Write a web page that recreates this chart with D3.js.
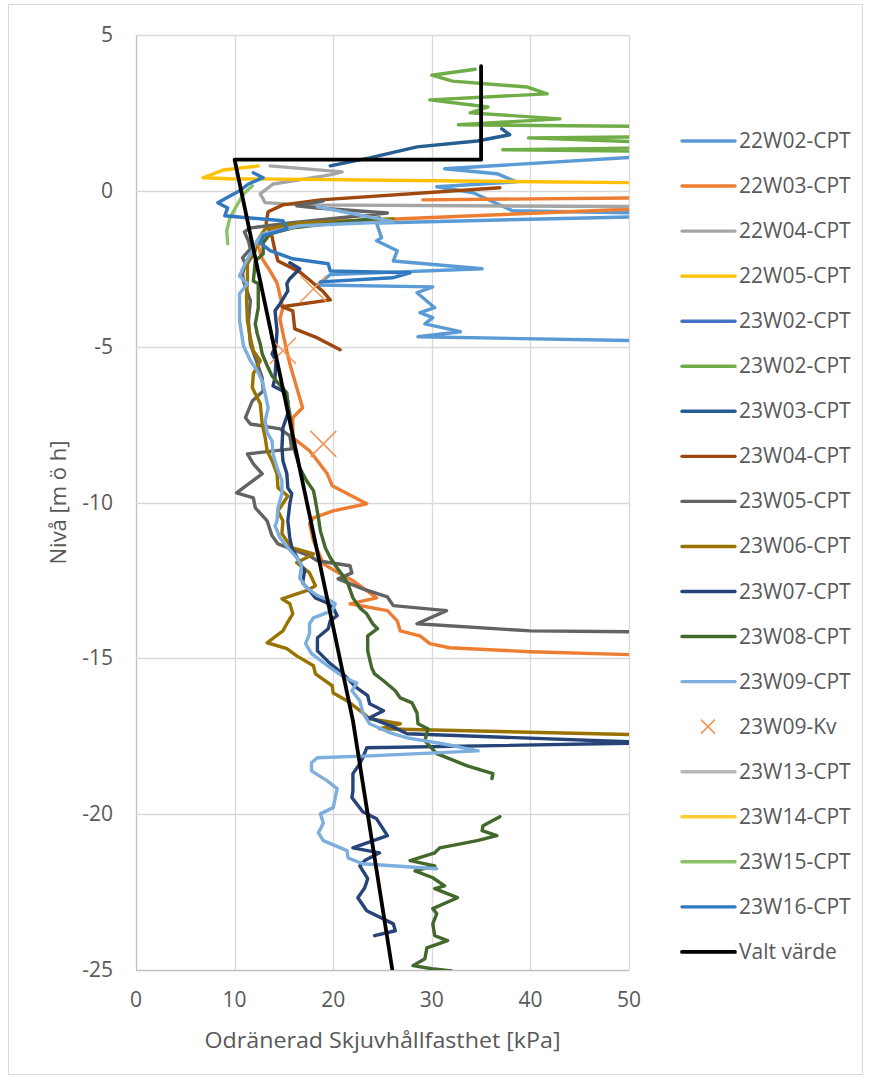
<!DOCTYPE html>
<meta charset="utf-8">
<style>
body { margin: 0; background: #fff; }
text { font-family: "Open Sans", "Noto Sans", sans-serif; fill: #595959; }
</style>
<body>
<svg id="chart" width="871" height="1083"></svg>
<script src="https://d3js.org/d3.v7.min.js"></script>
<script>
// series: [kPa, level m ö h], null = gap in the data
var s22W02 = [[51.1,1.09],[31.3,0.71],[36.6,0.55],[38.6,0.29],[30.5,0.13],[34.2,-0.06],[38.2,-0.64],[51.1,-0.71],[51.1,-0.83],[24.4,-1.03],[24.9,-1.51],[24.4,-1.60],[26.5,-1.92],[26.1,-2.25],[35.1,-2.50],[19.7,-2.69],[18.4,-3.02],[30.1,-3.08],[28.5,-3.27],[30.3,-3.75],[28.8,-3.91],[30.1,-4.07],[29.3,-4.27],[32.9,-4.52],[28.6,-4.68],[51.1,-4.81]];
var s22W03 = [[29.1,-0.29],[53.1,-0.22],[53.1,-0.55],[16.6,-1.03],[13.6,-1.28],[12.4,-1.76],[12.8,-2.18],[13.6,-2.57],[14.3,-2.95],[14.9,-3.75],[14.6,-4.11],[15.0,-4.72],[15.6,-5.55],[16.4,-6.42],[16.9,-6.96],[15.9,-7.28],[15.9,-7.92],[17.6,-8.34],[18.4,-8.66],[19.4,-9.08],[19.9,-9.46],[23.4,-10.04],[20.0,-10.27],[18.0,-10.49],[17.6,-10.68],[18.0,-11.23],[19.0,-11.97],[20.7,-12.29],[22.0,-12.51],[24.4,-13.06],[21.7,-13.25],[25.5,-13.47],[26.5,-13.80],[26.8,-14.12],[28.8,-14.28],[29.8,-14.53],[31.8,-14.66],[40.0,-14.79],[51.1,-14.89]];
var s22W04 = [[13.6,0.80],[20.9,0.61],[19.7,0.51],[13.9,0.22],[12.6,-0.10],[13.1,-0.38],[16.6,-0.45],[53.1,-0.51]];
var s22W05 = [[12.4,0.80],[8.9,0.67],[6.8,0.42],[9.5,0.39],[51,0.26]];
var s23W02a = [];
var s23W02b = [[34.4,3.90],[30.0,3.71],[32.1,3.52],[39.7,3.33],[41.7,3.11],[29.8,2.92],[35.7,2.69],[33.9,2.50],[43.0,2.31],[32.7,2.12],[57.2,2.05],[57.2,1.75],[39.8,1.70],[57.2,1.50],[57.2,1.40],[37.2,1.32],[57.2,1.25]];
var s23W03 = [[37.1,1.99],[37.9,1.80],[34.6,1.60],[28.5,1.41],[23.7,1.06],[19.7,0.80]];
var s23W04 = [[36.9,0.10],[18.7,-0.29],[14.9,-0.45],[13.4,-0.67],[13.2,-1.03],[13.8,-1.48],[14.1,-1.92],[14.4,-2.25],[15.6,-2.44],[16.6,-2.60],[17.6,-2.86],[19.0,-3.24],[19.7,-3.50],[14.8,-3.72],[15.9,-3.85],[16.1,-4.43],[18.4,-4.72],[20.7,-5.10]];
var s23W05 = [[19.0,-0.32],[16.3,-0.48],[18.4,-0.55],[25.5,-0.71],[15.6,-1.03],[11.6,-1.19],[11.0,-1.32],[11.4,-1.60],[11.6,-1.86],[10.8,-2.15],[11.1,-2.34],[10.8,-2.66],[10.9,-2.89],[11.6,-3.53],[11.4,-4.17],[11.6,-4.91],[12.1,-5.36],[12.8,-6.00],[12.9,-6.42],[11.8,-6.74],[11.1,-7.28],[11.6,-7.48],[14.6,-7.64],[15.6,-7.86],[15.8,-8.28],[11.3,-8.44],[11.9,-8.76],[12.8,-9.08],[10.2,-9.69],[11.9,-9.85],[12.1,-10.17],[13.3,-10.59],[13.8,-11.07],[14.4,-11.33],[17.6,-11.71],[18.4,-11.87],[21.7,-12.03],[21.9,-12.26],[20.5,-12.45],[23.0,-12.77],[25.5,-13.03],[26.1,-13.31],[31.5,-13.47],[28.5,-13.89],[40.0,-14.12],[51.1,-14.15]];
var s23W06 = [[26.1,-0.90],[16.6,-1.03],[13.1,-1.22],[12.3,-1.60],[12.1,-1.92],[11.3,-2.34],[11.3,-2.89],[11.2,-3.43],[11.3,-4.17],[11.6,-4.72],[11.9,-5.13],[12.6,-5.45],[11.9,-5.87],[11.8,-6.32],[12.6,-6.83],[12.8,-7.48],[13.1,-7.92],[13.3,-8.34],[13.8,-8.66],[14.3,-9.08],[14.4,-9.53],[15.4,-9.79],[14.4,-10.27],[14.9,-10.59],[14.8,-11.00],[15.8,-11.45],[18.0,-11.65],[16.3,-11.93],[17.6,-12.26],[18.2,-12.67],[17.3,-12.83],[14.8,-13.09],[15.6,-13.25],[15.9,-13.57],[15.3,-13.89],[14.9,-14.12],[13.3,-14.50],[15.3,-14.69],[16.3,-14.92],[18.0,-15.24],[18.2,-15.50],[19.9,-15.88],[20.0,-16.11],[21.4,-16.36],[23.0,-16.75],[23.7,-16.94],[26.8,-17.10],[24.7,-17.26],[51.1,-17.45]];
var s23W07 = [[15.6,-2.31],[16.6,-2.50],[15.6,-2.82],[15.3,-2.98],[15.4,-3.21],[14.6,-3.63],[14.1,-3.85],[14.3,-4.49],[14.2,-4.97],[13.8,-5.23],[14.2,-5.45],[14.1,-6.00],[13.9,-6.26],[14.9,-6.42],[15.4,-6.74],[15.4,-7.15],[14.9,-7.60],[14.8,-8.24],[14.9,-8.66],[15.3,-9.08],[15.4,-9.53],[15.8,-9.72],[15.6,-10.04],[15.4,-10.59],[15.6,-11.13],[15.8,-11.45],[16.6,-11.93],[17.1,-12.19],[16.9,-12.58],[17.6,-12.83],[18.2,-13.06],[19.4,-13.22],[20.0,-13.38],[20.4,-13.63],[19.7,-13.80],[19.5,-14.05],[18.4,-14.34],[18.4,-14.76],[19.7,-15.17],[21.0,-15.50],[22.4,-15.95],[23.5,-16.20],[23.7,-16.46],[25.1,-16.68],[23.7,-16.91],[25.8,-17.16],[27.5,-17.42],[53.1,-17.71],[23.4,-17.87],[23.0,-18.19],[22.7,-18.38],[22.0,-18.70],[22.0,-19.25],[21.9,-19.47],[23.0,-19.92],[24.4,-20.15],[25.5,-20.69],[22.0,-21.08],[24.7,-21.24],[23.2,-21.49],[22.7,-21.66],[23.5,-22.07],[23.2,-22.36],[22.5,-22.68],[23.4,-23.10],[26.1,-23.52],[26.3,-23.74],[24.2,-23.90]];
var s23W08 = [[24.7,-0.87],[15.9,-1.19],[13.6,-1.38],[12.9,-1.67],[12.9,-2.02],[12.1,-2.25],[11.9,-2.89],[12.4,-2.98],[12.4,-3.75],[12.1,-4.27],[12.3,-4.59],[12.6,-4.91],[12.8,-5.23],[13.4,-5.68],[13.8,-5.94],[14.4,-6.16],[15.3,-6.48],[15.4,-6.83],[15.6,-7.15],[15.8,-7.70],[16.1,-8.34],[16.6,-8.89],[17.3,-9.30],[18.0,-9.62],[18.2,-9.95],[18.5,-10.49],[18.7,-10.91],[19.2,-11.45],[19.7,-11.77],[20.4,-12.10],[21.0,-12.35],[21.5,-12.61],[22.0,-13.06],[22.7,-13.38],[23.4,-13.57],[24.0,-13.89],[24.5,-14.05],[23.5,-14.28],[23.5,-14.76],[23.9,-15.30],[24.2,-15.50],[25.1,-15.72],[26.3,-16.04],[26.8,-16.27],[28.0,-16.43],[28.5,-16.75],[28.6,-17.10],[29.6,-17.26],[29.3,-17.65],[30.5,-18.06],[33.6,-18.45],[36.2,-18.70],[36.1,-18.86],null,[36.9,-20.08],[35.2,-20.37],[35.1,-20.53],[36.6,-20.69],[34.6,-20.85],[30.8,-21.08],[30.3,-21.24],[27.8,-21.49],[30.3,-21.66],[28.3,-21.82],[30.1,-22.04],[31.3,-22.30],[30.3,-22.39],[32.6,-22.68],[30.1,-23.03],[30.5,-23.19],[30.1,-23.52],[30.3,-23.90],[31.6,-24.06],[29.5,-24.29],[29.3,-24.64],[28.1,-24.86],[30.0,-24.96],[32.0,-25.03]];
var s23W09 = [[18.4,-0.51],[26.1,-0.99],[16.6,-1.12],[12.9,-1.38],[12.3,-1.60],[11.8,-1.92],[11.1,-2.31],[10.5,-2.73],[11.3,-2.98],[10.5,-3.30],[10.5,-4.17],[10.9,-4.97],[11.6,-5.45],[12.3,-5.77],[12.8,-6.10],[13.1,-6.51],[13.4,-6.96],[13.1,-7.38],[13.3,-7.76],[13.8,-8.02],[13.9,-8.44],[14.3,-8.89],[14.8,-9.30],[14.8,-9.72],[14.4,-10.17],[14.3,-10.59],[14.1,-10.75],[14.6,-11.13],[15.4,-11.45],[16.3,-11.77],[16.8,-12.03],[16.6,-12.42],[17.3,-12.74],[18.4,-12.99],[19.7,-13.15],[20.2,-13.25],[19.9,-13.47],[18.0,-13.70],[17.6,-13.89],[17.6,-14.21],[17.2,-14.53],[17.8,-14.85],[19.7,-15.30],[21.2,-15.63],[22.4,-15.79],[21.9,-16.04],[22.7,-16.36],[23.0,-16.75],[23.7,-17.10],[25.8,-17.39],[27.5,-17.55],[31.1,-17.74],[34.7,-17.97],[23.7,-18.13],[18.4,-18.19],[17.8,-18.35],[17.8,-18.61],[19.4,-18.93],[20.4,-19.18],[20.0,-19.79],[18.7,-19.99],[19.0,-20.28],[18.5,-20.60],[19.0,-20.85],[21.4,-21.17],[21.5,-21.40],[23.0,-21.59],[30.5,-21.75]];
var s23W09Kv = [[18.0,-3.14],[14.9,-5.13],[19.0,-8.12]];
var s23W13 = [];
var s23W14 = [];
var s23W15 = [[11.8,0.16],[10.9,-0.10],[10.2,-0.48],[9.5,-0.90],[9.2,-1.28],[9.3,-1.70]];
var s23W16 = [[11.9,0.58],[12.9,0.42],[11.4,0.22],[10.5,0],[8.3,-0.38],[9.3,-0.55],[9.0,-0.80],[14.9,-0.96],[15.3,-1.22],[12.9,-1.44],[12.6,-1.67],[13.6,-1.92],[15.9,-2.18],[19.5,-2.34],[19.7,-2.57],[27.8,-2.63],[26.0,-2.79],[18.7,-2.92]];
var valtVarde = [[35,4],[35,1],[10,1],[22,-17],[26,-25]];

var names = ["22W02-CPT","22W03-CPT","22W04-CPT","22W05-CPT","23W02-CPT","23W02-CPT","23W03-CPT","23W04-CPT","23W05-CPT","23W06-CPT","23W07-CPT","23W08-CPT","23W09-CPT","23W09-Kv","23W13-CPT","23W14-CPT","23W15-CPT","23W16-CPT","Valt värde"];
var colors = ["#5B9BD5","#ED7D31","#A5A5A5","#FFC000","#4472C4","#70AD47","#255E91","#9E480E","#636363","#997300","#264478","#43682B","#7CAFDD","#F1975A","#B7B7B7","#FFCD33","#8CC168","#3079C0","#000000"];
var dataList = [s22W02,s22W03,s22W04,s22W05,s23W02a,s23W02b,s23W03,s23W04,s23W05,s23W06,s23W07,s23W08,s23W09,s23W09Kv,s23W13,s23W14,s23W15,s23W16,valtVarde];
var xTicks = [0,10,20,30,40,50];
var yTicks = [5,0,-5,-10,-15,-20,-25];

var series = names.map(function(n, i) {
  return {name: n, color: colors[i], data: dataList[i], marker: n == "23W09-Kv"};
});

var svg = d3.select("#chart");
var pLeft = 136, pRight = 629, pTop = 35, pBottom = 970;

var x = d3.scaleLinear().domain([0, 50]).range([pLeft, pRight]);
var y = d3.scaleLinear().domain([5, -25]).range([pTop, pBottom]);

// chart border
svg.append("rect")
  .attr("x", 8.5).attr("y", 4.5).attr("width", 854).attr("height", 1070)
  .attr("fill", "none").attr("stroke", "#D9D9D9");

// gridlines
svg.append("g").selectAll("line").data(xTicks).enter().append("line")
  .attr("x1", function(d) { return Math.round(x(d)) + 0.5; })
  .attr("x2", function(d) { return Math.round(x(d)) + 0.5; })
  .attr("y1", pTop).attr("y2", pBottom)
  .attr("stroke", function(d) { return d == 0 ? "#BFBFBF" : "#D9D9D9"; })
  .attr("stroke-width", 1.3);
svg.append("g").selectAll("line").data(yTicks).enter().append("line")
  .attr("y1", function(d) { return Math.round(y(d)) + 0.5; })
  .attr("y2", function(d) { return Math.round(y(d)) + 0.5; })
  .attr("x1", pLeft).attr("x2", pRight)
  .attr("stroke", function(d) { return d == -25 ? "#BFBFBF" : "#D9D9D9"; })
  .attr("stroke-width", 1.3);

// tick labels
svg.append("g").selectAll("text").data(yTicks).enter().append("text")
  .attr("x", 113).attr("y", function(d) { return y(d) + 7; })
  .attr("text-anchor", "end").style("font-size", "21px")
  .text(function(d) { return d; });
svg.append("g").selectAll("text").data(xTicks).enter().append("text")
  .attr("x", function(d) { return x(d); }).attr("y", 1007)
  .attr("text-anchor", "middle").style("font-size", "21px")
  .text(function(d) { return d; });

// axis titles
svg.append("text")
  .attr("transform", "translate(66," + ((pTop + pBottom) / 2) + ") rotate(-90)")
  .attr("text-anchor", "middle").style("font-size", "22px")
  .text("Nivå [m ö h]");
svg.append("text")
  .attr("x", (pLeft + pRight) / 2).attr("y", 1048)
  .attr("text-anchor", "middle").style("font-size", "22px")
  .attr("textLength", 356).attr("lengthAdjust", "spacingAndGlyphs")
  .text("Odränerad Skjuvhållfasthet [kPa]");

svg.append("clipPath").attr("id", "plotClip")
  .append("rect").attr("x", pLeft).attr("y", pTop).attr("width", pRight - pLeft).attr("height", pBottom - pTop);

var line = d3.line()
  .defined(function(d) { return d != null; })
  .x(function(d) { return x(d[0]); })
  .y(function(d) { return y(d[1]); });

var plot = svg.append("g").attr("clip-path", "url(#plotClip)");

series.forEach(function(s) {
  if (s.marker) {
    var m = 13;
    plot.append("g").selectAll("path").data(s.data).enter().append("path")
      .attr("d", function(d) {
        var cx = x(d[0]), cy = y(d[1]);
        return "M" + (cx - m) + "," + (cy - m) + "L" + (cx + m) + "," + (cy + m) +
               "M" + (cx - m) + "," + (cy + m) + "L" + (cx + m) + "," + (cy - m);
      })
      .attr("stroke", s.color).attr("stroke-width", 1.6).attr("fill", "none");
  } else if (s.data.length) {
    plot.append("path").datum(s.data)
      .attr("d", line)
      .attr("fill", "none")
      .attr("stroke", s.color)
      .attr("stroke-width", s.name == "Valt värde" ? 3.8 : 3.4)
      .attr("stroke-linejoin", "round")
      .attr("stroke-linecap", "round");
  }
});

// legend
var legend = svg.append("g").selectAll("g").data(series).enter().append("g")
  .attr("transform", function(d, i) { return "translate(0," + (141 + i * 45.05) + ")"; });
legend.each(function(s) {
  var g = d3.select(this);
  if (s.marker) {
    g.append("path").attr("d", "M701,-7L715,7M701,7L715,-7")
      .attr("stroke", s.color).attr("stroke-width", 1.6);
  } else {
    g.append("line").attr("x1", 682).attr("x2", 735).attr("y1", 0).attr("y2", 0)
      .attr("stroke", s.color).attr("stroke-width", s.name == "Valt värde" ? 3.8 : 3.4)
      .attr("stroke-linecap", "round");
  }
  g.append("text").attr("x", 739).attr("y", 7).style("font-size", "21px").text(s.name);
});
</script>
</body>
